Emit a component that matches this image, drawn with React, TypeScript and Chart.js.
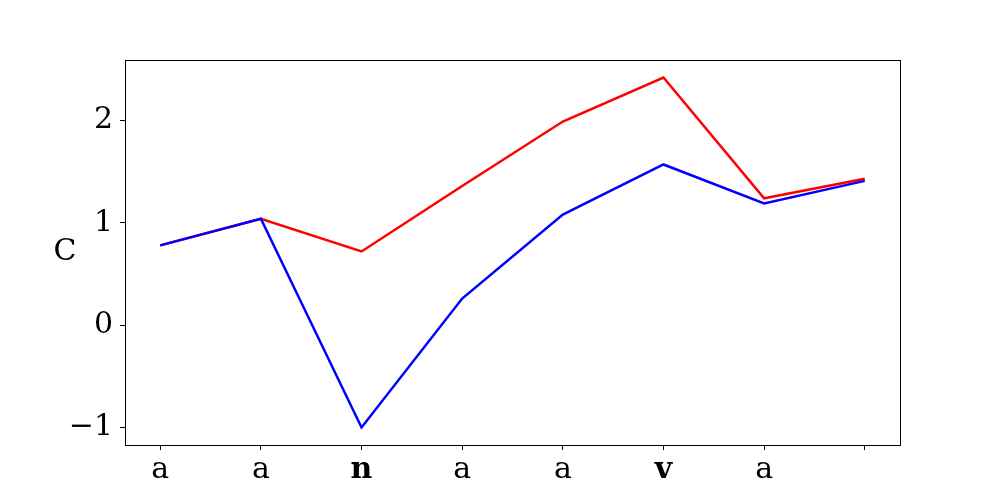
import React, { useEffect, useRef } from "react";
import { Chart, registerables } from "chart.js";

Chart.register(...registerables);

const xLabels = ["a", "a", "n", "a", "a", "v", "a", ""];
const boldIndices = [2, 5];
const redValues = [0.78, 1.04, 0.72, 1.36, 1.99, 2.42, 1.24, 1.43];
const blueValues = [0.78, 1.04, -1.0, 0.26, 1.08, 1.57, 1.19, 1.41];
const yTicks = [-1, 0, 1, 2];
const yTickLabels = ["\u22121", "0", "1", "2"];
const yTitle = "C";

const FONT = "'DejaVu Serif', serif";
const FSIZE = 30;

export default function App() {
  const ref = useRef<HTMLCanvasElement | null>(null);
  useEffect(() => {
    document.body.style.margin = "0";
    const canvas = ref.current!;
    const xMin = -0.05 * (xLabels.length - 1);
    const xMax = xLabels.length - 1 + 0.05 * (xLabels.length - 1);
    const all = [...redValues, ...blueValues];
    const lo = Math.min(...all);
    const hi = Math.max(...all);
    const pad = (hi - lo) * 0.05;

    const titlePlugin = {
      id: "frameAndTitle",
      afterDraw(chart: any) {
        const { ctx, chartArea } = chart;
        ctx.save();
        ctx.strokeStyle = "#000";
        ctx.lineWidth = 1;
        ctx.strokeRect(
          Math.round(chartArea.left) + 0.5,
          Math.round(chartArea.top) + 0.5,
          Math.round(chartArea.right - chartArea.left),
          Math.round(chartArea.bottom - chartArea.top)
        );
        ctx.fillStyle = "#000";
        ctx.font = `${FSIZE}px ${FONT}`;
        ctx.textAlign = "center";
        ctx.textBaseline = "middle";
        ctx.fillText(yTitle, 65, (chartArea.top + chartArea.bottom) / 2);
        ctx.restore();
      },
    };

    const chart = new Chart(canvas, {
      type: "line",
      data: {
        datasets: [
          {
            label: "blue",
            data: blueValues.map((v, i) => ({ x: i, y: v })),
            borderColor: "#0000ff",
            borderWidth: 2.5,
            pointRadius: 0,
            fill: false,
            tension: 0,
          },
          {
            label: "red",
            data: redValues.map((v, i) => ({ x: i, y: v })),
            borderColor: "#ff0000",
            borderWidth: 2.5,
            pointRadius: 0,
            fill: false,
            tension: 0,
          },
        ],
      },
      options: {
        animation: false,
        responsive: false,
        maintainAspectRatio: false,
        layout: { padding: { top: 60, right: 100, left: 0, bottom: 0 } },
        plugins: { legend: { display: false }, tooltip: { enabled: false } },
        scales: {
          x: {
            type: "linear",
            min: xMin,
            max: xMax,
            afterBuildTicks: (scale: any) => {
              scale.ticks = xLabels.map((_, i) => ({ value: i }));
            },
            afterFit: (scale: any) => {
              scale.height = 55;
            },
            grid: {
              display: true,
              drawOnChartArea: false,
              drawTicks: true,
              tickLength: 5,
              color: "#000",
            },
            border: { display: true, color: "#000" },
            ticks: {
              padding: 2,
              color: "#000",
              maxRotation: 0,
              autoSkip: false,
              callback: (v: any) => xLabels[Math.round(Number(v))] ?? "",
              font: (ctx: any) => {
                const val = ctx.tick ? Math.round(ctx.tick.value) : -1;
                return {
                  family: FONT,
                  size: FSIZE,
                  weight: boldIndices.includes(val) ? "bold" : "normal",
                };
              },
            },
          },
          y: {
            type: "linear",
            min: lo - pad,
            max: hi + pad,
            afterBuildTicks: (scale: any) => {
              scale.ticks = yTicks.map((v) => ({ value: v }));
            },
            afterFit: (scale: any) => {
              scale.width = 125;
            },
            grid: {
              display: true,
              drawOnChartArea: false,
              drawTicks: true,
              tickLength: 5,
              color: "#000",
            },
            border: { display: true, color: "#000" },
            ticks: {
              padding: 7,
              color: "#000",
              autoSkip: false,
              callback: (v: any) => {
                const i = yTicks.indexOf(Number(v));
                return i >= 0 ? yTickLabels[i] : "";
              },
              font: { family: FONT, size: FSIZE },
            },
          },
        },
      },
      plugins: [titlePlugin],
    });
    return () => chart.destroy();
  }, []);
  return (
    <div style={{ width: 1000, height: 500 }}>
      <canvas ref={ref} width={1000} height={500} style={{ display: "block" }} />
    </div>
  );
}
